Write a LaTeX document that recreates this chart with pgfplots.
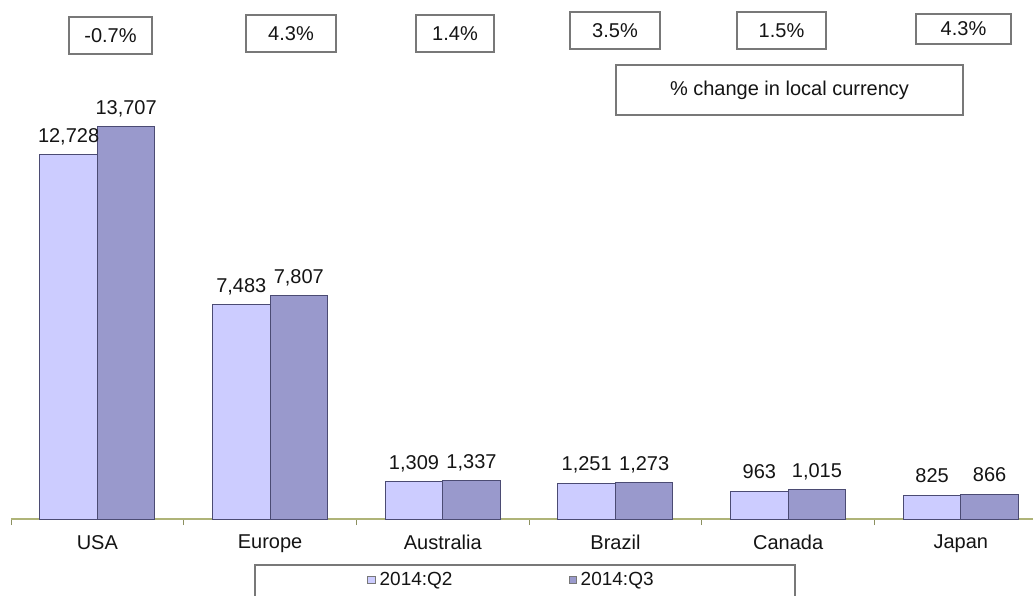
\documentclass[border=0pt]{standalone}
\usepackage{pgfplots}
\pgfplotsset{compat=1.18}
\usepackage{fontspec}
\setmainfont{Liberation Sans}
\definecolor{qtwo}{RGB}{204,204,255}
\definecolor{qthree}{RGB}{153,153,204}
\definecolor{barline}{RGB}{75,75,115}
\definecolor{axisline}{RGB}{175,180,120}
\definecolor{boxline}{RGB}{120,120,120}
\definecolor{txt}{RGB}{20,20,20}
\begin{document}
\begin{tikzpicture}
\begin{axis}[
  at={(5.5pt,38pt)}, anchor=south west,
  scale only axis, width=518.1pt, height=259.5pt,
  xmin=-0.5, xmax=5.5, ymin=0, ymax=18148,
  axis x line=bottom, axis y line=none,
  x axis line style={-, draw=axisline, line width=0.6pt},
  ybar=0pt, bar width=0.333,
  xtick={0,1,2,3,4,5},
  xticklabels={USA,Europe,Australia,Brazil,Canada,Japan},
  major tick length=0pt,
  minor xtick={-0.5,0.5,1.5,2.5,3.5,4.5,5.5},
  minor tick length=3pt,
  tick align=outside,
  every minor tick/.append style={draw=axisline!80!black, line width=0.5pt},
  xticklabel style={font=\fontsize{10}{12}\selectfont, text=txt, yshift=-4.5pt},
  /pgf/number format/assume math mode=true,
  /pgf/number format/.cd, 1000 sep={,}, fixed, /pgfplots/.cd,
  nodes near coords,
  every node near coord/.append style={font=\fontsize{10}{12}\selectfont, text=txt, inner sep=0pt, text depth=0pt, yshift=6pt},
  clip=false,
  legend columns=2,
  legend style={draw=none, fill=none, at={(0.484,-0.1175)}, anchor=center,
    font=\fontsize{9.5}{11}\selectfont, text=txt,
    /tikz/every even column/.append style={column sep=56pt}},
  legend image code/.code={\draw[#1, draw=boxline] (0pt,-1.8pt) rectangle (3.6pt,1.8pt);},
]
\addplot[fill=qtwo, draw=barline, line width=0.5pt] coordinates {(0,12728) (1,7483) (2,1309) (3,1251) (4,963) (5,825)};
\addplot[fill=qthree, draw=barline, line width=0.5pt] coordinates {(0,13707) (1,7807) (2,1337) (3,1273) (4,1015) (5,866)};
\legend{2014:Q2,2014:Q3}
\end{axis}
\begin{scope}[x=0.5pt, y=-0.5pt, shift={(0pt,297.5pt)}]
  \tikzset{pb/.style={text=txt, font=\fontsize{10}{12}\selectfont}}
  \draw[boxline, line width=0.6pt] (69,17) rectangle node[pb]{-0.7\%} (152,54);
  \draw[boxline, line width=0.6pt] (246,15) rectangle node[pb]{4.3\%} (336,52);
  \draw[boxline, line width=0.6pt] (416,15) rectangle node[pb]{1.4\%} (494,52);
  \draw[boxline, line width=0.6pt] (570,12) rectangle node[pb]{3.5\%} (660,49);
  \draw[boxline, line width=0.6pt] (737,12) rectangle node[pb]{1.5\%} (826,49);
  \draw[boxline, line width=0.6pt] (916,14) rectangle node[pb]{4.3\%} (1011,44);
  \draw[boxline, line width=0.6pt] (616,65) rectangle node[pb]{\% change in local currency} (963,115);
  \draw[boxline, line width=0.6pt] (255,565) rectangle (795,605);
\end{scope}
\pgfresetboundingbox
\useasboundingbox (0pt,0pt) rectangle (516.5pt,297.5pt);
\end{tikzpicture}
\end{document}
